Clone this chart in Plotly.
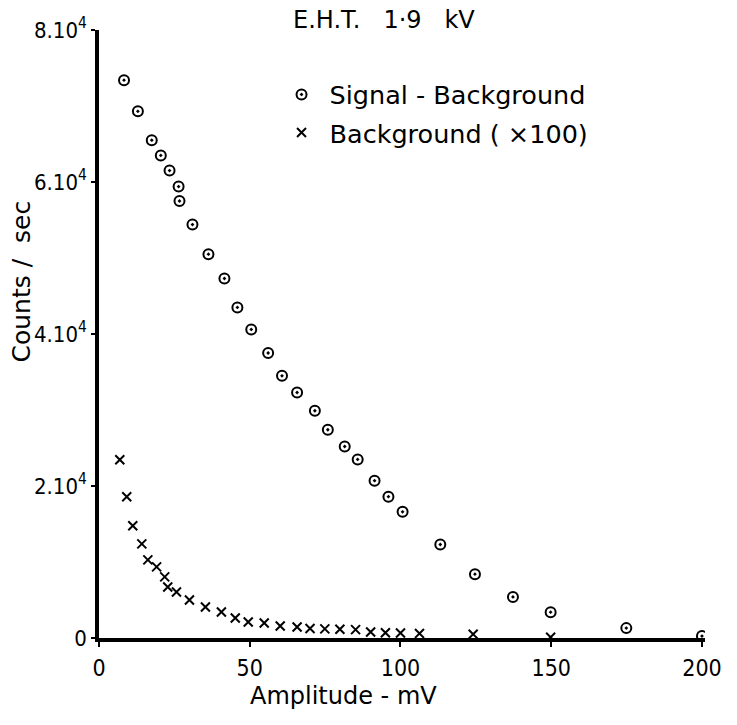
import plotly.graph_objects as go

# Signal - Background (circles)
sig_x = [8.3, 12.9, 17.5, 20.5, 23.4, 26.4, 26.7, 31.0, 36.3, 41.6, 45.9, 50.5, 56.1, 60.7,
         65.7, 71.6, 75.9, 81.5, 85.8, 91.4, 96.0, 100.7, 113.2, 124.7, 137.3, 149.8, 174.9, 200.0]
sig_y = [73400, 69300, 65500, 63500, 61500, 59400, 57500, 54400, 50500, 47300, 43500, 40600,
         37500, 34500, 32300, 29900, 27400, 25200, 23500, 20700, 18600, 16600, 12300, 8400,
         5400, 3400, 1300, 250]

# Background (x100) (crosses)
bg_x = [6.9, 9.2, 11.2, 14.2, 16.2, 19.1, 21.8, 22.8, 25.7, 30.0, 35.3, 40.6, 45.2, 49.5,
        54.8, 60.1, 65.7, 70.0, 74.9, 79.9, 85.1, 90.1, 95.0, 100.0, 106.3, 124.1, 149.8]
bg_y = [23460, 18580, 14760, 12390, 10280, 9360, 8040, 6720, 6060, 5010, 4090, 3430, 2640,
        2110, 1980, 1580, 1450, 1250, 1200, 1150, 1100, 800, 700, 650, 600, 500, 100]

y_tickvals = [0, 20000, 40000, 60000, 80000]
y_ticktext = ["0", "2.10<sup>4</sup>", "4.10<sup>4</sup>", "6.10<sup>4</sup>", "8.10<sup>4</sup>"]
x_tickvals = [0, 50, 100, 150, 200]

NUMFONT = "DejaVu Sans Condensed, Liberation Sans Narrow, DejaVu Sans"
TXTFONT = "DejaVu Sans"
NB = "\u00a0"

fig = go.Figure()
fig.add_trace(go.Scatter(
    x=sig_x, y=sig_y, mode="markers", name="Signal - Background", legendgroup="a",
    marker=dict(symbol="circle-open-dot", size=10, color="black", line=dict(width=2, color="black"))))
fig.add_trace(go.Scatter(
    x=bg_x, y=bg_y, mode="markers", name="Background ( ×100)", legendgroup="b",
    marker=dict(symbol="x-thin", size=9, color="black", line=dict(width=2, color="black"))))

fig.update_layout(
    width=737, height=725,
    margin=dict(l=99, r=32, t=30, b=87),
    paper_bgcolor="white", plot_bgcolor="white",
    font=dict(family=TXTFONT, size=22, color="black"),
    showlegend=True,
    legend=dict(x=0.288, y=0.932, xanchor="left", yanchor="top",
                font=dict(family=TXTFONT, size=25.5), itemwidth=46, tracegroupgap=2,
                bgcolor="rgba(0,0,0,0)"),
    xaxis=dict(range=[0, 201], tickvals=x_tickvals, showgrid=False, zeroline=False,
               showline=True, linecolor="black", linewidth=3.5,
               ticks="outside", ticklen=5, tickwidth=2, tickcolor="black",
               ticklabelstandoff=2,
               tickfont=dict(family=NUMFONT, size=23)),
    yaxis=dict(range=[0, 80000], tickvals=y_tickvals, ticktext=y_ticktext,
               showgrid=False, zeroline=False,
               showline=True, linecolor="black", linewidth=3.5,
               ticks="outside", ticklen=4, tickwidth=2, tickcolor="black",
               tickfont=dict(family=NUMFONT, size=22)),
    annotations=[
        dict(text="E.H.T." + NB * 3 + "1·9" + NB * 3 + "kV", xref="paper", yref="paper",
             x=0.317, y=1.016, xanchor="left", yanchor="middle", showarrow=False,
             font=dict(family=TXTFONT, size=24)),
        dict(text="Counts /" + NB * 2 + "sec", xref="paper", yref="paper", x=-0.128, y=0.587,
             xanchor="center", yanchor="middle", textangle=-90, showarrow=False,
             font=dict(family=TXTFONT, size=25)),
        dict(text="Amplitude - mV", xref="paper", yref="paper", x=0.403, y=-0.095,
             xanchor="center", yanchor="middle", showarrow=False,
             font=dict(family=TXTFONT, size=24)),
    ],
)

fig.write_html("out.html")
